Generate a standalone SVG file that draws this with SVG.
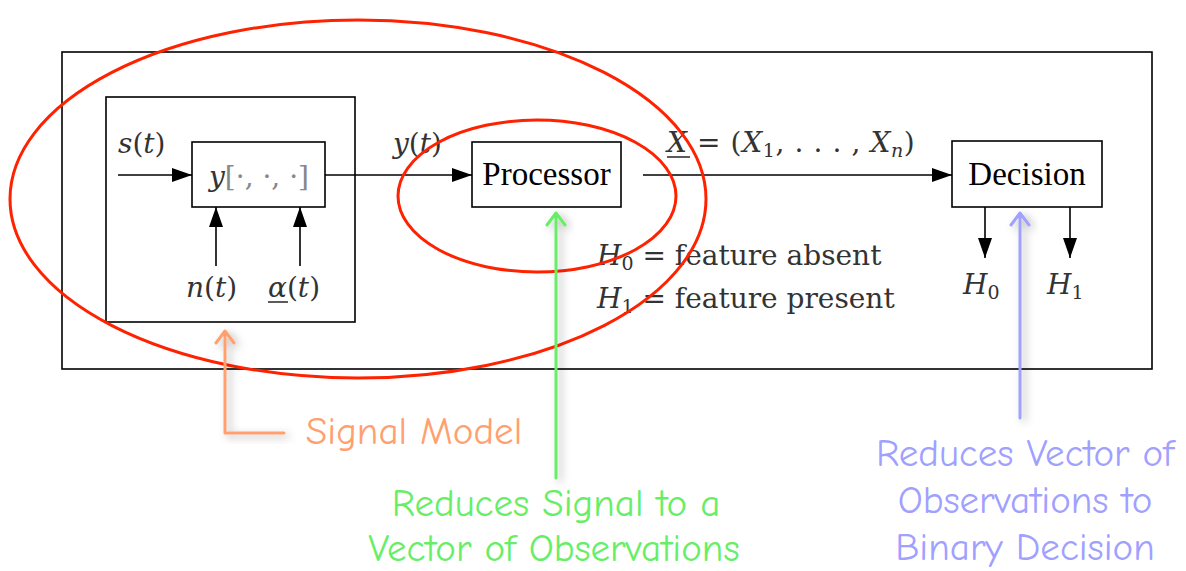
<svg xmlns="http://www.w3.org/2000/svg" width="1186" height="571" viewBox="0 0 1186 571">
  <defs>
    <marker id="tri-big" viewBox="0 0 20 14" refX="20" refY="7" markerWidth="20" markerHeight="14" markerUnits="userSpaceOnUse" orient="auto">
      <path d="M0,0 L20,7 L0,14 z" fill="#000"/>
    </marker>
    <filter id="soft-shadow" x="-50%" y="-10%" width="200%" height="120%">
      <feDropShadow dx="4" dy="3" stdDeviation="4" flood-color="#000" flood-opacity="0.3"/>
    </filter>
    <style>
      .box { fill: #fff; stroke: #000; stroke-width: 1.6; }
      .frame { fill: none; stroke: #000; stroke-width: 1.6; }
      .wire { fill: none; stroke: #000; stroke-width: 1.6; marker-end: url(#tri-big); }
      .math { font-family: "DejaVu Serif", "Liberation Serif", serif; font-style: italic; font-size: 28px; fill: #333; }
      .rm { font-style: normal; }
      .sub { font-size: 19px; }
      .label { font-family: "Liberation Serif", "DejaVu Serif", serif; font-size: 33px; fill: #000; }
      .ring { fill: none; stroke: #ff2200; stroke-width: 3; }
      .note { font-family: "Comic Neue", "DejaVu Sans", "Noto Sans", sans-serif; font-size: 39px; text-anchor: middle; }
      .ptr { fill: none; stroke-width: 3; stroke-linecap: round; stroke-linejoin: round; }
    </style>
  </defs>

  <rect x="0" y="0" width="1186" height="571" fill="#fff"/>

  <!-- outer system frame -->
  <rect class="frame" x="62" y="52" width="1090" height="317"/>

  <!-- signal model block -->
  <g id="signal-model">
    <rect class="frame" x="106" y="97" width="249" height="225"/>
  </g>

  <g id="observation">
    <rect class="box" x="192" y="142" width="133" height="65"/>
    <text class="math" x="209" y="186">y<tspan class="rm" fill="#888">[·, ·, ·]</tspan></text>
  </g>

  <g id="processor">
    <rect class="box" x="472" y="142" width="149" height="65"/>
    <text class="label" x="546.5" y="185" text-anchor="middle">Processor</text>
  </g>

  <g id="decision">
    <rect class="box" x="952" y="141" width="150" height="66"/>
    <text class="label" x="1027" y="185" text-anchor="middle">Decision</text>
  </g>

  <!-- signal flow -->
  <g id="connectors">
    <line class="wire" x1="118" y1="175" x2="192" y2="175"/>
    <line class="wire" x1="325" y1="175" x2="472" y2="175"/>
    <line class="wire" x1="643" y1="175" x2="952" y2="175"/>
    <line class="wire" x1="216" y1="266" x2="216" y2="207"/>
    <line class="wire" x1="300" y1="266" x2="300" y2="207"/>
    <line class="wire" x1="985" y1="207" x2="985" y2="258"/>
    <line class="wire" x1="1070" y1="207" x2="1070" y2="258"/>
  </g>

  <!-- math labels -->
  <g id="labels">
    <text class="math" x="118" y="153">s<tspan class="rm">(</tspan>t<tspan class="rm">)</tspan></text>
    <text class="math" x="393" y="153">y<tspan class="rm">(</tspan>t<tspan class="rm">)</tspan></text>
    <text class="math" x="186" y="297">n<tspan class="rm">(</tspan>t<tspan class="rm">)</tspan></text>
    <text class="math" x="268" y="297">α<tspan class="rm">(</tspan>t<tspan class="rm">)</tspan></text>
    <line x1="268" y1="302" x2="288" y2="302" stroke="#333" stroke-width="1.6"/>
    <text class="math" x="667" y="152" letter-spacing="0.6">X <tspan class="rm">= (</tspan>X<tspan class="rm sub" dy="5">1</tspan><tspan class="rm" dy="-5">, . . . , </tspan>X<tspan class="sub" dy="5">n</tspan><tspan class="rm" dy="-5">)</tspan></text>
    <line x1="667" y1="157" x2="690" y2="157" stroke="#333" stroke-width="1.6"/>
    <text class="math" x="597" y="265">H<tspan class="rm sub" dy="5">0</tspan><tspan class="rm" dy="-5"> = feature absent</tspan></text>
    <text class="math" x="597" y="308">H<tspan class="rm sub" dy="5">1</tspan><tspan class="rm" dy="-5"> = feature present</tspan></text>
    <text class="math" x="963" y="294">H<tspan class="rm sub" dy="5">0</tspan></text>
    <text class="math" x="1047" y="294">H<tspan class="rm sub" dy="5">1</tspan></text>
  </g>

  <!-- red highlight rings -->
  <g id="highlights">
    <ellipse class="ring" cx="358" cy="199" rx="348" ry="179"/>
    <ellipse class="ring" cx="537" cy="196" rx="139" ry="76"/>
  </g>

  <!-- annotation callouts -->
  <g id="note-signal-model">
    <path class="ptr" stroke="#ffa070" filter="url(#soft-shadow)" d="M225,333 L225,433 L284,433 M216,343 L225,331 L234,343"/>
    <text class="note" fill="#ffa070" x="414" y="444">Signal Model</text>
  </g>
  <g id="note-processor">
    <path class="ptr" stroke="#66ee66" filter="url(#soft-shadow)" d="M556,478 L556,213 M547,225 L556,213 L565,225"/>
    <text class="note" fill="#66ee66" x="556" y="516">Reduces Signal to a</text>
    <text class="note" fill="#66ee66" x="554" y="561">Vector of Observations</text>
  </g>
  <g id="note-decision">
    <path class="ptr" stroke="#a0a0ff" filter="url(#soft-shadow)" d="M1020,418 L1020,213 M1011,225 L1020,213 L1029,225"/>
    <text class="note" fill="#a0a0ff" x="1025" y="466">Reduces Vector of</text>
    <text class="note" fill="#a0a0ff" x="1025" y="513">Observations to</text>
    <text class="note" fill="#a0a0ff" x="1025" y="560">Binary Decision</text>
  </g>
</svg>
